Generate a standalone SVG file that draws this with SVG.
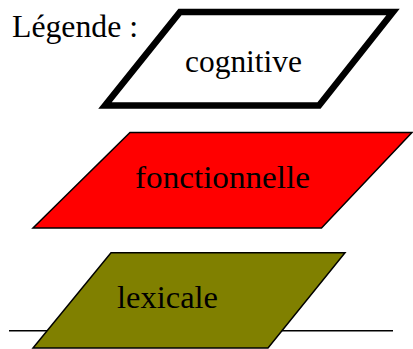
<svg xmlns="http://www.w3.org/2000/svg" width="413" height="349" viewBox="0 0 413 349">
<style>
.t{font-family:Liberation Serif,serif;font-size:31.5px;fill:#000}
.thin{stroke:#000;stroke-width:1.5}
</style>
<rect width="413" height="349" fill="#fff"/>
<g id="legend-title"><text class="t" x="12" y="36.5" textLength="126" lengthAdjust="spacingAndGlyphs">Légende :</text></g>
<g id="cognitive">
<polygon points="180,12 393,12 319,105.5 105,105.5" fill="#fff" stroke="#000" stroke-width="6.5" stroke-linejoin="miter"/>
<text class="t" x="185" y="72" textLength="117" lengthAdjust="spacingAndGlyphs">cognitive</text>
</g>
<g id="fonctionnelle">
<polygon class="thin" points="130,132.5 412,132.5 321.5,228 33,228" fill="#f00"/>
<text class="t" x="135" y="188" textLength="175" lengthAdjust="spacingAndGlyphs">fonctionnelle</text>
</g>
<g id="connectors">
<line class="thin" x1="9" y1="330.7" x2="393" y2="330.7"/>
</g>
<g id="lexicale">
<polygon class="thin" points="111,252.7 345,252.7 268,348 33,348" fill="#808000"/>
<text class="t" x="117" y="308" textLength="101" lengthAdjust="spacingAndGlyphs">lexicale</text>
</g>
</svg>
